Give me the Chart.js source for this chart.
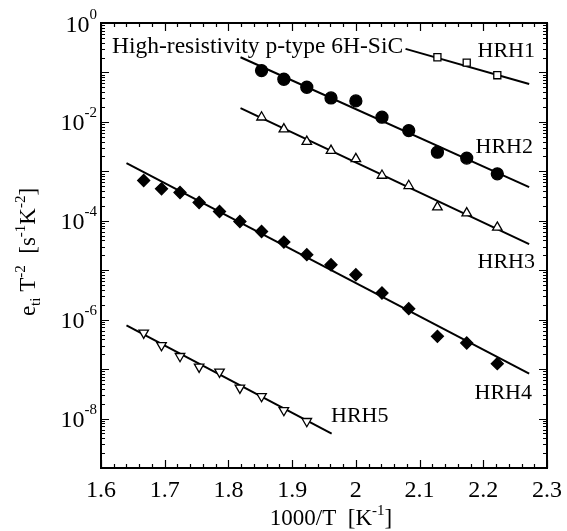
<!DOCTYPE html>
<html>
<head>
<meta charset="utf-8">
<script src="https://cdn.jsdelivr.net/npm/chart.js@4.4.0/dist/chart.umd.min.js"></script>
<style>
  body { margin: 0; background: #fff; }
  canvas { display: block; }
</style>
</head>
<body>
<canvas id="mycanvas" width="567" height="531"></canvas>
<script>
// values (x = 1000/T, y = e_ti T^-2)
var hrh1X = [2.128, 2.174, 2.222];
var hrh1Y = [0.203, 0.158, 0.0878];

var hrh2X = [1.852, 1.887, 1.923, 1.961, 2.000, 2.041, 2.083, 2.128, 2.174, 2.222];
var hrh2Y = [0.109, 0.0729, 0.0502, 0.0305, 0.0266, 0.01245, 0.00667, 0.00244, 0.00185, 0.00089];

var hrh3X = [1.852, 1.887, 1.923, 1.961, 2.000, 2.041, 2.083, 2.128, 2.174, 2.222];
var hrh3Y = [0.0124, 0.00713, 0.0040, 0.00263, 0.00179, 0.000823, 0.00051, 0.000189, 0.000143, 0.0000733];

var hrh4X = [1.667, 1.695, 1.724, 1.754, 1.786, 1.818, 1.852, 1.887, 1.923, 1.961, 2.000, 2.041, 2.083, 2.128, 2.174, 2.222];
var hrh4Y = [6.52e-4, 4.43e-4, 3.73e-4, 2.34e-4, 1.54e-4, 9.68e-5, 6.08e-5, 3.71e-5, 2.06e-5, 1.29e-5, 8.11e-6, 3.46e-6, 1.67e-6, 4.6e-7, 3.38e-7, 1.29e-7];

var hrh5X = [1.667, 1.695, 1.724, 1.754, 1.786, 1.818, 1.852, 1.887, 1.923];
var hrh5Y = [5.39e-7, 3.03e-7, 1.82e-7, 1.11e-7, 8.78e-8, 4.17e-8, 2.82e-8, 1.47e-8, 8.82e-9];

// fitted lines (end points)
var fit1X = [2.078, 2.272];
var fit1Y = [0.30, 0.0586];
var fit2X = [1.819, 2.272];
var fit2Y = [0.203, 4.8e-4];
var fit3X = [1.819, 2.272];
var fit3Y = [0.0189, 3.38e-5];
var fit4X = [1.640, 2.272];
var fit4Y = [1.47e-3, 8.11e-8];
var fit5X = [1.640, 1.962];
var fit5Y = [7.67e-7, 4.98e-9];

// axis ticks
var xTickValues = [1.6, 1.7, 1.8, 1.9, 2.0, 2.1, 2.2, 2.3];
var xTickLabels = ['1.6', '1.7', '1.8', '1.9', '2', '2.1', '2.2', '2.3'];
var yTickExps = [0, -2, -4, -6, -8];

var FONT = '"Liberation Serif", "Times New Roman", serif';

function pts(xs, ys) {
  var out = [];
  for (var i in xs) {
    out.push({x: xs[i], y: ys[i]});
  }
  return out;
}

function fitLine(xs, ys) {
  return {
    data: pts(xs, ys),
    showLine: true,
    borderColor: '#000',
    borderWidth: 2,
    pointRadius: 0,
    order: 2
  };
}

function markers(xs, ys, style, radius, filled, rot) {
  return {
    data: pts(xs, ys),
    showLine: false,
    pointStyle: style,
    pointRadius: radius,
    pointRotation: rot || 0,
    pointBackgroundColor: filled ? '#000' : '#fff',
    pointBorderColor: '#000',
    pointBorderWidth: 1.3,
    order: 1
  };
}

// draw a run of text pieces: [text, size, baseline shift]
function drawParts(ctx, parts, x, y, align) {
  var w = 0;
  parts.forEach(function(p) {
    ctx.font = p[1] + 'px ' + FONT;
    w += ctx.measureText(p[0]).width;
  });
  var cx = x;
  if (align === 'right') cx = x - w;
  if (align === 'center') cx = x - w / 2;
  parts.forEach(function(p) {
    ctx.font = p[1] + 'px ' + FONT;
    ctx.fillText(p[0], cx, y + p[2]);
    cx += ctx.measureText(p[0]).width;
  });
}

var framePlugin = {
  id: 'frame',
  afterDraw: function(chart) {
    var ctx = chart.ctx;
    var a = chart.chartArea;
    var xs = chart.scales.x;
    var ys = chart.scales.y;
    ctx.save();
    ctx.strokeStyle = '#000';
    ctx.fillStyle = '#000';

    // ticks, inward on all four sides
    ctx.lineWidth = 1.2;
    ctx.beginPath();
    for (var k = 0; k <= 35; k++) {
      var v = 1.6 + k * 0.02;
      var px = Math.round(xs.getPixelForValue(v)) + 0.5;
      var len = (k % 5 === 0) ? 8 : 4;
      ctx.moveTo(px, a.bottom); ctx.lineTo(px, a.bottom - len);
      ctx.moveTo(px, a.top); ctx.lineTo(px, a.top + len);
    }
    for (var e = -9; e <= 0; e++) {
      for (var m = 1; m <= 9; m++) {
        var val = m * Math.pow(10, e);
        if (val > 1.0001) continue;
        var py = Math.round(ys.getPixelForValue(val)) + 0.5;
        var l = (m === 1) ? 8 : 4;
        ctx.moveTo(a.left, py); ctx.lineTo(a.left + l, py);
        ctx.moveTo(a.right, py); ctx.lineTo(a.right - l, py);
      }
    }
    ctx.stroke();

    // frame
    ctx.lineWidth = 2;
    ctx.strokeRect(a.left, a.top, a.right - a.left, a.bottom - a.top);

    // tick labels
    ctx.textBaseline = 'alphabetic';
    xTickValues.forEach(function(v, i) {
      drawParts(ctx, [[xTickLabels[i], 24, 0]], xs.getPixelForValue(v), a.bottom + 28.5, 'center');
    });
    yTickExps.forEach(function(ex) {
      var py = ys.getPixelForValue(Math.pow(10, ex));
      var sup = ex === 0 ? '0' : '-' + (-ex);
      drawParts(ctx, [['10', 24, 0], [sup, 15, -13]], a.left - 4, py + 8.5, 'right');
    });

    // axis titles
    drawParts(ctx, [['1000/T  [K', 23, 0], ['-1', 15, -10], [']', 23, 0]], 331, 525, 'center');
    ctx.save();
    ctx.translate(35, 252);
    ctx.rotate(-Math.PI / 2);
    drawParts(ctx, [['e', 23, 0], ['ti', 15, 5], [' T', 23, 0], ['-2', 15, -10],
      ['  [s', 23, 0], ['-1', 15, -10], ['K', 23, 0], ['-2', 15, -10], [']', 23, 0]], 0, 0, 'center');
    ctx.restore();

    // annotations
    drawParts(ctx, [['High-resistivity p-type 6H-SiC', 23.5, 0]], 112, 53, 'left');
    drawParts(ctx, [['HRH1', 22, 0]], 535, 57, 'right');
    drawParts(ctx, [['HRH2', 22, 0]], 533, 152.5, 'right');
    drawParts(ctx, [['HRH3', 22, 0]], 535, 268, 'right');
    drawParts(ctx, [['HRH4', 22, 0]], 532, 399, 'right');
    drawParts(ctx, [['HRH5', 22, 0]], 331, 421.5, 'left');
    ctx.restore();
  }
};

var ctx = document.getElementById('mycanvas');

var chart = new Chart(ctx, {
  type: 'scatter',
  data: {
    datasets: [
      fitLine(fit1X, fit1Y),
      fitLine(fit2X, fit2Y),
      fitLine(fit3X, fit3Y),
      fitLine(fit4X, fit4Y),
      fitLine(fit5X, fit5Y),
      markers(hrh1X, hrh1Y, 'rect', 5, false),
      markers(hrh2X, hrh2Y, 'circle', 6, true),
      markers(hrh3X, hrh3Y, 'triangle', 5.5, false),
      markers(hrh4X, hrh4Y, 'rectRot', 6, true),
      markers(hrh5X, hrh5Y, 'triangle', 5.5, false, 180)
    ]
  },
  options: {
    responsive: false,
    animation: false,
    layout: { padding: { left: 101, top: 23, right: 20, bottom: 63 } },
    plugins: {
      legend: { display: false },
      tooltip: { enabled: false }
    },
    scales: {
      x: { type: 'linear', min: 1.6, max: 2.3, display: false },
      y: { type: 'logarithmic', min: 1e-9, max: 1, display: false }
    }
  },
  plugins: [framePlugin]
});
</script>
</body>
</html>
